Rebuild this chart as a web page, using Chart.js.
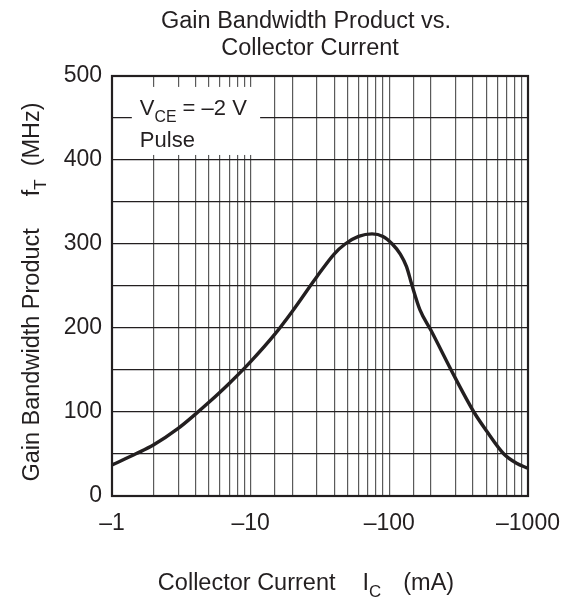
<!DOCTYPE html>
<html>
<head>
<meta charset="utf-8">
<script src="https://cdn.jsdelivr.net/npm/chart.js@4.4.1/dist/chart.umd.min.js"></script>
<style>
  html, body { margin: 0; padding: 0; background: #fff; }
  #wrap { width: 574px; height: 598px; }
</style>
</head>
<body>
<div id="wrap"><canvas id="chart"></canvas></div>
<script>
'use strict';

// collector current (mA, plotted as magnitude) and f_T (MHz)
const currents = [1, 1.5, 2, 3, 4, 5, 7, 10, 15, 20, 30, 40, 48, 60, 75, 90, 105, 120, 133, 145, 166, 200, 300, 407, 500, 670, 827, 1000];
const gainBw   = [37, 50.5, 61, 80.5, 97.5, 111.5, 134, 160, 193, 220, 261, 288, 300, 309, 312, 309, 300, 288, 273, 252, 222, 197, 140, 100, 78, 50, 39, 33];

const xTickLabels = { 1: '\u20131', 10: '\u201310', 100: '\u2013100', 1000: '\u20131000' };
const yTickLabels = [0, 100, 200, 300, 400, 500];

const titleLines = ['Gain Bandwidth Product vs.', 'Collector Current'];
const FONT = '"Liberation Sans", Arial, Helvetica, sans-serif';

// note box corners in data units (current, MHz)
const noteBox = { x0: 1.39, x1: 11.7, y0: 406, y1: 487 };

// parts: [text, isSubscript, gapBefore]
function partsWidth(ctx, parts, size) {
    let w = 0;
    parts.forEach(p => {
        ctx.font = (p[1] ? size * 0.72 : size) + 'px ' + FONT;
        w += (p[2] || 0) + ctx.measureText(p[0]).width;
    });
    return w;
}

function drawSub(ctx, parts, x, y, size) {
    let cx = x;
    parts.forEach(p => {
        ctx.font = (p[1] ? size * 0.72 : size) + 'px ' + FONT;
        cx += p[2] || 0;
        ctx.fillText(p[0], cx, p[1] ? y + size * 0.3 : y);
        cx += ctx.measureText(p[0]).width;
    });
}

const decorPlugin = {
    id: 'decor',
    beforeDraw(chart) {
        const ctx = chart.ctx;
        ctx.save();
        ctx.fillStyle = '#fff';
        ctx.fillRect(0, 0, chart.width, chart.height);
        ctx.restore();
    },
    beforeDatasetsDraw(chart) {
        const ctx = chart.ctx, xs = chart.scales.x, ys = chart.scales.y;
        const l = xs.getPixelForValue(noteBox.x0), r = xs.getPixelForValue(noteBox.x1);
        const t = ys.getPixelForValue(noteBox.y1), b = ys.getPixelForValue(noteBox.y0);
        ctx.save();
        ctx.fillStyle = '#fff';
        ctx.fillRect(l, t, r - l, b - t);
        ctx.fillStyle = '#231f20';
        ctx.textBaseline = 'alphabetic';
        ctx.textAlign = 'left';
        drawSub(ctx, [['V', false], ['CE', true], [' = \u20132 V', false]], l + 8, t + 28, 22);
        drawSub(ctx, [['Pulse', false]], l + 8, t + 60, 22);
        ctx.restore();
    },
    afterDraw(chart) {
        const ctx = chart.ctx, a = chart.chartArea;
        ctx.save();
        ctx.strokeStyle = '#231f20';
        ctx.lineWidth = 2.2;
        ctx.strokeRect(a.left, a.top, a.right - a.left, a.bottom - a.top);

        ctx.fillStyle = '#231f20';
        ctx.textAlign = 'center';
        ctx.textBaseline = 'alphabetic';
        ctx.font = '23.5px ' + FONT;
        ctx.fillText(titleLines[0], 306, 28);
        ctx.fillText(titleLines[1], 310, 55);

        // x axis title
        ctx.textAlign = 'left';
        const xParts = [['Collector Current', false], ['I', false, 27], ['C', true], ['(mA)', false, 22]];
        const xw = partsWidth(ctx, xParts, 23.5);
        drawSub(ctx, xParts, 306 - xw / 2, 590, 23.5);

        // y axis title, rotated
        const yParts = [['Gain Bandwidth Product', false], ['f', false, 32], ['T', true], ['(MHz)', false, 13]];
        const yw = partsWidth(ctx, yParts, 23.5);
        ctx.translate(39, 292);
        ctx.rotate(-Math.PI / 2);
        drawSub(ctx, yParts, -yw / 2, 0, 23.5);
        ctx.restore();
    }
};

new Chart(document.getElementById('chart'), {
    type: 'line',
    data: {
        datasets: [{
            data: currents.map((c, i) => ({ x: c, y: gainBw[i] })),
            borderColor: '#231f20',
            borderWidth: 3.4,
            pointRadius: 0,
            cubicInterpolationMode: 'monotone',
            fill: false
        }]
    },
    plugins: [decorPlugin],
    options: {
        responsive: true,
        maintainAspectRatio: false,
        animation: false,
        layout: { padding: { top: 76, right: 46, bottom: 0, left: 0 } },
        plugins: {
            legend: { display: false },
            tooltip: { enabled: false },
            title: { display: false }
        },
        scales: {
            x: {
                type: 'logarithmic',
                min: 1,
                max: 1000,
                afterFit(scale) { scale.height = 102; },
                grid: { color: '#5a5a5a', lineWidth: 1.2, drawTicks: false },
                border: { display: false },
                ticks: {
                    autoSkip: false,
                    maxRotation: 0,
                    padding: 14,
                    color: '#231f20',
                    font: { family: FONT, size: 23 },
                    callback: v => xTickLabels[v] || ''
                }
            },
            y: {
                min: 0,
                max: 500,
                afterFit(scale) { scale.width = 112; },
                grid: { color: '#231f20', lineWidth: 1.2, drawTicks: false },
                border: { display: false },
                ticks: {
                    stepSize: 50,
                    autoSkip: false,
                    padding: 10,
                    color: '#231f20',
                    font: { family: FONT, size: 23 },
                    callback: v => yTickLabels.includes(v) ? String(v) : ''
                }
            }
        }
    }
});
</script>
</body>
</html>
